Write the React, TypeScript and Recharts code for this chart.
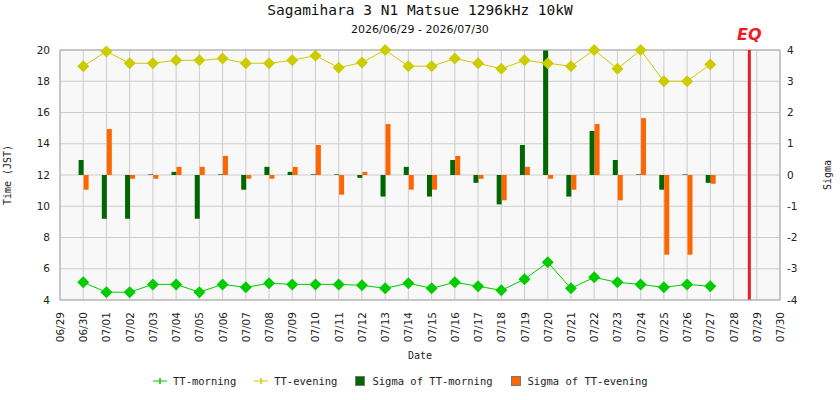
import {
  Bar,
  CartesianGrid,
  ComposedChart,
  Legend,
  Line,
  ReferenceLine,
  XAxis,
  YAxis,
} from 'recharts'

// x axis: one tick per day, 06/29 .. 07/30
const dateLabels = [
  '06/29', '06/30', '07/01', '07/02', '07/03', '07/04', '07/05', '07/06',
  '07/07', '07/08', '07/09', '07/10', '07/11', '07/12', '07/13', '07/14',
  '07/15', '07/16', '07/17', '07/18', '07/19', '07/20', '07/21', '07/22',
  '07/23', '07/24', '07/25', '07/26', '07/27', '07/28', '07/29', '07/30',
]

const dataDates = [
  '06/30', '07/01', '07/02', '07/03', '07/04', '07/05', '07/06', '07/07',
  '07/08', '07/09', '07/10', '07/11', '07/12', '07/13', '07/14', '07/15',
  '07/16', '07/17', '07/18', '07/19', '07/20', '07/21', '07/22', '07/23',
  '07/24', '07/25', '07/26', '07/27',
]

const ttMorning = [
  5.13, 4.5, 4.5, 5.0, 5.0, 4.5, 5.0, 4.81, 5.07, 5.0, 5.0, 5.0, 4.94, 4.75,
  5.07, 4.75, 5.13, 4.88, 4.62, 5.33, 6.41, 4.75, 5.45, 5.13, 5.0, 4.81, 5.0, 4.88,
]

const ttEvening = [
  18.96, 19.9, 19.15, 19.15, 19.34, 19.34, 19.45, 19.15, 19.15, 19.34, 19.64,
  18.87, 19.2, 20.0, 18.96, 18.96, 19.45, 19.15, 18.8, 19.34, 19.15, 18.96,
  20.0, 18.8, 20.0, 18.0, 18.0, 19.08,
]

const sigmaMorning = [
  0.48, -1.4, -1.4, 0.02, 0.1, -1.4, 0.02, -0.47, 0.26, 0.1, 0.02, 0.02, -0.09,
  -0.69, 0.26, -0.69, 0.48, -0.25, -0.94, 0.96, 4.0, -0.69, 1.41, 0.48, 0.02,
  -0.47, 0.02, -0.25,
]

const sigmaEvening = [
  -0.47, 1.47, -0.12, -0.12, 0.26, 0.26, 0.61, -0.12, -0.12, 0.26, 0.96, -0.63,
  0.1, 1.63, -0.47, -0.47, 0.61, -0.12, -0.81, 0.26, -0.12, -0.47, 1.63, -0.81,
  1.82, -2.55, -2.55, -0.28,
]

const timeTicks = [4, 6, 8, 10, 12, 14, 16, 18, 20]
const sigmaTicks = [-4, -3, -2, -1, 0, 1, 2, 3, 4]

// earthquake marker, in days after 06/29
const eqDay = 29.68

const data = dataDates.map((d, i) => ({
  day: dateLabels.indexOf(d),
  morning: ttMorning[i],
  evening: ttEvening[i],
  sMorning: sigmaMorning[i],
  sEvening: sigmaEvening[i],
}))

const C_MORNING = '#00cc00'
const C_EVENING = '#cccc00'
const C_SMORNING = '#006600'
const C_SEVENING = '#ff6600'

const sans = '"DejaVu Sans", sans-serif'
const mono = '"DejaVu Sans Mono", monospace'

const Diamond = (color: string) => (props: any) => {
  const { cx, cy, index } = props
  if (cx == null || cy == null) return <g key={index} />
  const r = 6
  return (
    <polygon
      key={index}
      points={`${cx},${cy - r} ${cx + r},${cy} ${cx},${cy + r} ${cx - r},${cy}`}
      fill={color}
    />
  )
}

const DateTick = (props: any) => {
  const { x, y, payload } = props
  return (
    <text
      x={x}
      y={y}
      transform={`rotate(-90 ${x} ${y})`}
      textAnchor="end"
      dominantBaseline="central"
      fontFamily={sans}
      fontSize={10.5}
      fill="#222"
    >
      {dateLabels[payload.value]}
    </text>
  )
}

const legendItems = [
  { label: 'TT-morning', color: C_MORNING, kind: 'line' },
  { label: 'TT-evening', color: C_EVENING, kind: 'line' },
  { label: 'Sigma of TT-morning', color: C_SMORNING, kind: 'box' },
  { label: 'Sigma of TT-evening', color: C_SEVENING, kind: 'box' },
]

function ChartLegend() {
  return (
    <div
      style={{
        display: 'flex',
        alignItems: 'center',
        marginLeft: 153,
        height: 30,
        fontFamily: mono,
        fontSize: 10.5,
        color: '#222',
        marginTop: -4,
      }}
    >
      {legendItems.map((it) => (
        <div key={it.label} style={{ display: 'flex', alignItems: 'center', marginRight: 18 }}>
          {it.kind === 'line' ? (
            <svg width={14} height={10} style={{ marginRight: 6 }}>
              <line x1={0} y1={5} x2={14} y2={5} stroke={it.color} strokeWidth={1} />
              <line x1={7} y1={2} x2={7} y2={8} stroke={it.color} strokeWidth={1.5} />
            </svg>
          ) : (
            <svg width={10} height={10} style={{ marginRight: 7 }}>
              <rect x={0.5} y={0.5} width={9} height={9} fill={it.color} stroke="#777" />
            </svg>
          )}
          <span style={{ whiteSpace: 'pre' }}>{it.label}</span>
        </div>
      ))}
    </div>
  )
}

export default function App() {
  return (
    <div style={{ position: 'absolute', left: 0, top: 0, width: 840, height: 400, background: '#fff' }}>
      <div
        style={{
          position: 'absolute', top: 2, left: 0, width: 840, textAlign: 'center',
          fontFamily: mono, fontSize: 14.5, color: '#111',
        }}
      >
        Sagamihara 3 N1 Matsue 1296kHz 10kW
      </div>
      <div
        style={{
          position: 'absolute', top: 23, left: 0, width: 840, textAlign: 'center',
          fontFamily: sans, fontSize: 11, color: '#111',
        }}
      >
        2026/06/29 - 2026/07/30
      </div>
      <ComposedChart
        width={840}
        height={400}
        data={data}
        margin={{ top: 50, right: 0, bottom: 0, left: 0 }}
        barGap={0}
        style={{ position: 'absolute', left: 0, top: 0 }}
      >
        <CartesianGrid fill="#f8f8f8" stroke="#cccccc" strokeWidth={1} yAxisId="time" />
        <XAxis
          dataKey="day"
          type="number"
          domain={[0, dateLabels.length - 1]}
          ticks={dateLabels.map((_, i) => i)}
          interval={0}
          height={70}
          tickLine={false}
          tickSize={10}
          tickMargin={2}
          axisLine={{ stroke: '#aaaaaa' }}
          tick={<DateTick />}
          label={{
            content: () => (
              <text x={420} y={359} textAnchor="middle" fontFamily={mono} fontSize={10} fill="#222">
                Date
              </text>
            ),
          }}
        />
        <YAxis
          yAxisId="time"
          orientation="left"
          width={60}
          domain={[4, 20]}
          ticks={timeTicks}
          interval={0}
          tickLine={false}
          tickSize={8}
          tickMargin={2}
          axisLine={{ stroke: '#aaaaaa' }}
          tick={{ fontFamily: sans, fontSize: 10.5, fill: '#222' }}
          label={{
            content: () => (
              <text
                x={11}
                y={175}
                transform="rotate(-90 11 175)"
                textAnchor="middle"
                fontFamily={mono}
                fontSize={10}
                fill="#222"
              >
                Time (JST)
              </text>
            ),
          }}
        />
        <YAxis
          yAxisId="sigma"
          orientation="right"
          width={60}
          domain={[-4, 4]}
          ticks={sigmaTicks}
          interval={0}
          tickLine={false}
          tickSize={5}
          tickMargin={2}
          axisLine={{ stroke: '#aaaaaa' }}
          tick={{ fontFamily: sans, fontSize: 10.5, fill: '#222', textAnchor: 'start' }}
          label={{
            content: () => (
              <text
                x={831}
                y={175}
                transform="rotate(-90 831 175)"
                textAnchor="middle"
                fontFamily={mono}
                fontSize={10}
                fill="#222"
              >
                Sigma
              </text>
            ),
          }}
        />
        <ReferenceLine yAxisId="time" y={20} stroke="#aaaaaa" />
        <Bar yAxisId="sigma" dataKey="sMorning" name="Sigma of TT-morning" fill={C_SMORNING} barSize={5} isAnimationActive={false} />
        <Bar yAxisId="sigma" dataKey="sEvening" name="Sigma of TT-evening" fill={C_SEVENING} barSize={5} isAnimationActive={false} />
        <Line
          yAxisId="time"
          dataKey="morning"
          name="TT-morning"
          stroke={C_MORNING}
          strokeWidth={1}
          dot={Diamond(C_MORNING)}
          activeDot={false}
          isAnimationActive={false}
        />
        <Line
          yAxisId="time"
          dataKey="evening"
          name="TT-evening"
          stroke={C_EVENING}
          strokeWidth={1}
          dot={Diamond(C_EVENING)}
          activeDot={false}
          isAnimationActive={false}
        />
        <ReferenceLine
          yAxisId="time"
          x={eqDay}
          stroke="#ee1c25"
          strokeWidth={3}
          label={{
            position: 'top',
            content: (p: any) => (
              <text
                x={p.viewBox.x}
                y={40}
                textAnchor="middle"
                fontFamily={sans}
                fontSize={16}
                fontWeight="bold"
                fontStyle="italic"
                fill="#ee1c25"
              >
                EQ
              </text>
            ),
          }}
        />
        <Legend verticalAlign="bottom" height={30} content={() => <ChartLegend />} />
      </ComposedChart>
    </div>
  )
}
